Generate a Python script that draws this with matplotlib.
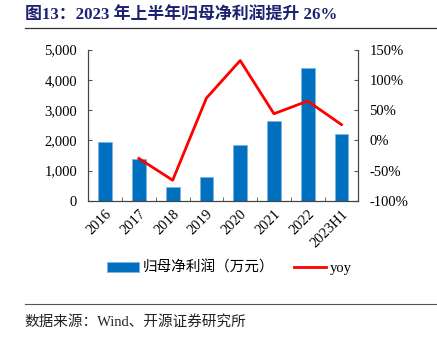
import matplotlib
matplotlib.use("Agg")
import matplotlib.pyplot as plt
from matplotlib.lines import Line2D
from matplotlib.ticker import FuncFormatter, FixedLocator
import numpy as np

plt.rcParams['font.family'] = ['Liberation Serif', 'Noto Sans CJK SC']

# data
years = ["2016", "2017", "2018", "2019", "2020", "2021", "2022", "2023H1"]
profit = [1934, 1371, 454, 785, 1847, 2649, 4404, 2219]   # 归母净利润（万元）
yoy = [None, -30, -66, 70, 132, 44, 65, 26]                # %

bar_color = "#0070C0"
line_color = "#FF0000"

fig = plt.figure(figsize=(4.37, 3.38), dpi=100)
ax = fig.add_axes([0.202, 0.406, 0.618, 0.447])
ax2 = ax.twinx()

x = np.arange(len(years))
ax.bar(x, profit, width=0.41, color=bar_color, edgecolor="#7fb2e0", linewidth=0.6,
       label="归母净利润（万元）", zorder=2)

yx = [i for i, v in enumerate(yoy) if v is not None]
yv = [v for v in yoy if v is not None]
ax2.plot(yx, yv, color=line_color, linewidth=2, label="yoy", zorder=3)

ax.set_xlim(-0.5, len(years) - 0.5)
ax.set_ylim(0, 5000)
ax.set_yticks([0, 1000, 2000, 3000, 4000, 5000])
ax.yaxis.set_major_formatter(FuncFormatter(lambda v, p: f"{v:,.0f}"))
ax2.set_ylim(-100, 150)
ax2.set_yticks([-100, -50, 0, 50, 100, 150])
ax2.yaxis.set_major_formatter(FuncFormatter(lambda v, p: f"{v:.0f}%"))

ax.set_xticks(x)
ax.set_xticklabels(years, rotation=45, ha="right", rotation_mode="anchor", fontsize=10.5)
ax.tick_params(axis="x", which="major", length=0, pad=5)
ax.xaxis.set_minor_locator(FixedLocator(np.arange(0.5, len(years) - 0.5, 1)))
ax.tick_params(axis="x", which="minor", direction="in", length=3, color="#555555")
ax.tick_params(axis="y", direction="in", length=3, labelsize=10.5, color="#555555", pad=8)
ax2.tick_params(axis="y", direction="in", length=3, labelsize=10.5, color="#555555", pad=8)

for a in (ax, ax2):
    a.spines["top"].set_visible(False)
    for s in ("left", "right", "bottom"):
        a.spines[s].set_color("#444444")
        a.spines[s].set_linewidth(0.8)

# title and rules
fig.text(0.057, 0.955, "图13：2023 年上半年归母净利润提升 26%", fontsize=12.2,
         fontweight="bold", color="#1c2270", va="center")
fig.add_artist(Line2D([0.057, 1.0], [0.918, 0.918], color="#333333", linewidth=0.9))
fig.add_artist(Line2D([0.057, 1.0], [0.100, 0.100], color="#555555", linewidth=0.8))
fig.text(0.057, 0.048, "数据来源：Wind、开源证券研究所", fontsize=10.5, color="#222222",
         va="center")

handles = [ax.patches[0], ax2.lines[0]]
fig.legend(handles, ["归母净利润（万元）", "yoy"], loc="center", bbox_to_anchor=(0.525, 0.207),
           ncol=2, frameon=False, fontsize=10.5, handlelength=2.2, handleheight=0.6,
           columnspacing=1.3, handletextpad=0.3)

fig.savefig("out.png", dpi=100)
